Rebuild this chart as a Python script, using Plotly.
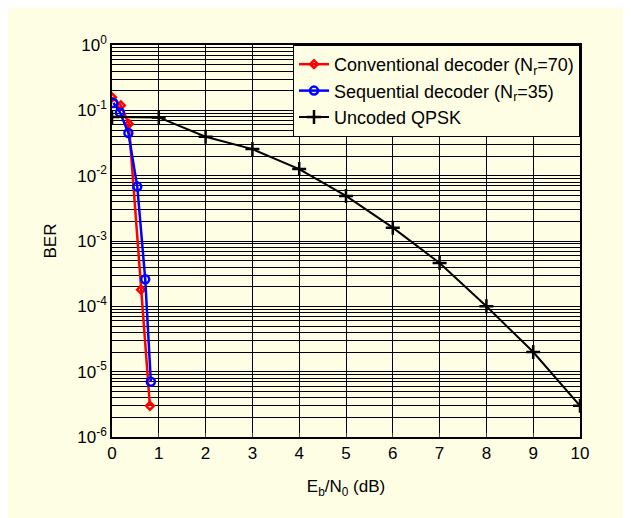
import plotly.graph_objects as go
import numpy as np

# Data
conv_x = [0.0, 0.19, 0.36, 0.62, 0.81]
conv_ber = [0.158, 0.119, 0.062, 1.8e-4, 3.0e-6]

seq_x = [0.03, 0.17, 0.35, 0.54, 0.71, 0.83]
seq_ber = [0.13, 0.093, 0.045, 6.8e-3, 2.6e-4, 7.0e-6]

unc_x = [0, 1, 2, 3, 4, 5, 6, 7, 8, 9, 10]
unc_ber = [0.079, 0.078, 0.0394, 0.0255, 0.0126, 0.0049, 0.0016, 4.6e-4, 1.0e-4, 2.0e-5, 3.0e-6]

x_ticks = list(range(0, 11))
y_exps = [0, -1, -2, -3, -4, -5, -6]
y_ticktext = ["10<sup>%d</sup>" % e for e in y_exps]

BG = "#FEFEE4"
FONT = "Liberation Sans, Arial, sans-serif"

fig = go.Figure()
fig.add_trace(go.Scatter(
    x=conv_x, y=conv_ber, mode="lines+markers",
    name="Conventional decoder (N<sub>r</sub>=70)",
    line=dict(color="#FF0000", width=2.5),
    marker=dict(symbol="diamond-open", size=6, color="#FF0000", line=dict(width=2.5, color="#FF0000")),
))
fig.add_trace(go.Scatter(
    x=seq_x, y=seq_ber, mode="lines+markers",
    name="Sequential decoder (N<sub>r</sub>=35)",
    line=dict(color="#0000FF", width=2.5),
    marker=dict(symbol="circle-open", size=8, color="#0000FF", line=dict(width=2.5, color="#0000FF")),
))
fig.add_trace(go.Scatter(
    x=unc_x, y=unc_ber, mode="lines+markers",
    name="Uncoded QPSK",
    line=dict(color="#000000", width=2),
    marker=dict(symbol="cross-thin", size=10, color="#000000", line=dict(width=2.5, color="#000000")),
))

minor_vals = [m * 10.0 ** e for e in range(-6, 0) for m in range(2, 10)]

fig.update_layout(
    width=631, height=518,
    paper_bgcolor=BG, plot_bgcolor=BG,
    margin=dict(l=104, r=59, t=37, b=89),
    font=dict(family=FONT, size=17, color="#000000"),
    showlegend=True,
    legend=dict(
        x=1, y=1, xanchor="right", yanchor="top",
        bgcolor=BG, bordercolor="#000000", borderwidth=1,
        font=dict(family=FONT, size=18),
        tracegroupgap=0, itemwidth=30,
    ),
    xaxis=dict(
        range=[0, 10], tickvals=x_ticks, ticks="inside", ticklen=4,
        showgrid=True, gridcolor="#000000", gridwidth=1,
        showline=True, linecolor="#000000", linewidth=1.5, mirror=True,
        zeroline=False,
        title=dict(text="E<sub>b</sub>/N<sub>0</sub> (dB)", font=dict(size=17), standoff=18),
        tickfont=dict(size=17),
    ),
    yaxis=dict(
        type="log", range=[-6, 0],
        tickvals=[10.0 ** e for e in y_exps], ticktext=y_ticktext,
        showgrid=True, gridcolor="#000000", gridwidth=1,
        minor=dict(tickvals=minor_vals, showgrid=True, gridcolor="#000000", gridwidth=1),
        showline=True, linecolor="#000000", linewidth=1.5, mirror=True,
        zeroline=False,
        title=dict(text="BER", font=dict(size=17), standoff=16),
        tickfont=dict(size=17),
    ),
)

fig.write_html("out.html")
